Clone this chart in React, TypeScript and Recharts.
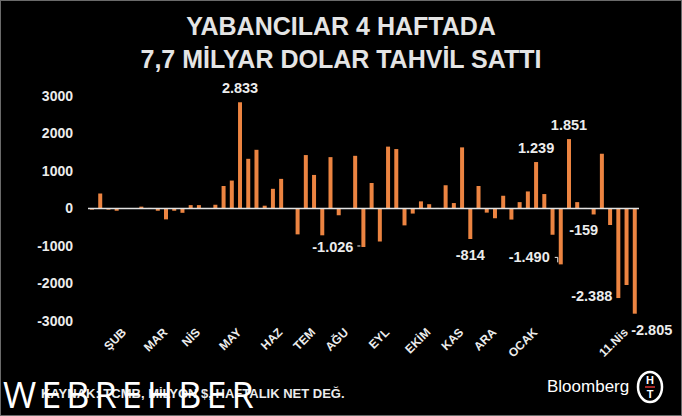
import { Bar, BarChart, LabelList, ReferenceLine, XAxis, YAxis } from 'recharts';

// weekly net foreign bond flows, million $
const weeklyFlows = [
  -30, 400, -30, -60, 5, 10, 50, 15, -60, -290, -60, -115, 90, 90, 10, 100, 600, 745, 2833, 1325,
  1565, 75, 525, 790, 10, -690, 1425, 895, -715, 1370, -180, 10, 1405, -1026, 680, -880, 1650,
  1585, -450, -135, 190, 115, 15, 620, 145, 1630, -814, 600, -110, -260, 340, -295, 170, 455,
  1239, 385, -700, -1490, 1851, 170, 15, -159, 1460, -440, -2388, -2040, -2805,
];

const tickWeeks = [4, 9, 13, 18, 23, 27, 31, 36, 41, 45, 49, 54, 65];
const tickLabels = ['ŞUB', 'MAR', 'NİS', 'MAY', 'HAZ', 'TEM', 'AĞU', 'EYL', 'EKİM', 'KAS', 'ARA', 'OCAK', '11.Nis'];
const yTicks = [-3000, -2000, -1000, 0, 1000, 2000, 3000];

const calloutWeeks = [18, 33, 46, 54, 57, 58, 61, 64, 66];
const calloutSides = ['above', 'leftDash', 'below', 'above', 'leftBracket', 'above', 'belowLeft', 'left', 'belowRight'];

const titleLines = ['YABANCILAR 4 HAFTADA', '7,7 MİLYAR DOLAR TAHVİL SATTI'];
const sourceNote = 'KAYNAK: TCMB, MİLYON $, HAFTALIK NET DEĞ.';

const data = weeklyFlows.map((flow, week) => ({ week, flow }));

const FONT = "'Liberation Sans', Arial, sans-serif";
const ORANGE = '#EC8441';
const TEXT = '#ececec';

// 2833 -> "2.833", -1026 -> "-1.026"
function fmt(v: number) {
  const s = String(Math.abs(v)).replace(/\B(?=(\d{3})+(?!\d))/g, '.');
  return (v < 0 ? '-' : '') + s;
}

// label value is the week number, only for the called-out weeks
const calloutKey = (d: { week: number }) => (calloutWeeks.includes(d.week) ? String(d.week) : null);

function MonthTick({ x, y, payload }: any) {
  const label = tickLabels[tickWeeks.indexOf(payload.value)];
  if (!label) return null;
  const ax = x + 2;
  const ay = y + 4;
  return (
    <text
      x={ax}
      y={ay}
      transform={`rotate(-45 ${ax} ${ay})`}
      textAnchor="end"
      fill={TEXT}
      fontSize={12}
      fontWeight={700}
      fontFamily={FONT}
    >
      {label}
    </text>
  );
}

function Callout(props: any) {
  const { x, y, width, height, value } = props;
  if (value == null || value === '') return null;
  const week = Number(value);
  const i = calloutWeeks.indexOf(week);
  if (i < 0) return null;
  const side = calloutSides[i];
  const cx = x + width / 2;
  const top = Math.min(y, y + height);
  const bottom = Math.max(y, y + height);
  const common = { fill: TEXT, fontSize: 14.5, fontWeight: 700, fontFamily: FONT };
  const text = fmt(weeklyFlows[week]);

  if (side === 'above') {
    return <text x={cx} y={top - 9} textAnchor="middle" {...common}>{text}</text>;
  }
  if (side === 'below' || side === 'belowLeft' || side === 'belowRight') {
    const shift = side === 'belowLeft' ? -10 : side === 'belowRight' ? 17 : 0;
    return <text x={cx + shift} y={bottom + 21} textAnchor="middle" {...common}>{text}</text>;
  }
  if (side === 'leftDash') {
    return (
      <g>
        <text x={cx - 10} y={bottom + 5} textAnchor="end" {...common}>{text}</text>
        <line x1={cx - 6} x2={cx - 3} y1={bottom - 1} y2={bottom - 1} stroke={TEXT} strokeWidth={1} />
      </g>
    );
  }
  if (side === 'leftBracket') {
    return (
      <g>
        <text x={cx - 11} y={bottom - 2} textAnchor="end" {...common}>{text}</text>
        <polyline
          points={`${cx - 6},${bottom - 7} ${cx - 3},${bottom - 7} ${cx - 3},${bottom - 2}`}
          fill="none"
          stroke={TEXT}
          strokeWidth={1}
        />
      </g>
    );
  }
  return <text x={cx - 6} y={bottom + 3} textAnchor="end" {...common}>{text}</text>;
}

export default function App() {
  return (
    <div
      style={{
        position: 'fixed',
        left: 0,
        top: 0,
        width: 682,
        height: 416,
        background: '#000',
        boxSizing: 'border-box',
        border: '1px solid #6a6a6a',
        overflow: 'hidden',
      }}
    >
      <div style={{ position: 'absolute', left: -1, top: -1 }}>
        <BarChart width={682} height={416} data={data} margin={{ top: 96, right: 43, bottom: 55, left: 8 }}>
          <XAxis
            dataKey="week"
            type="category"
            ticks={tickWeeks}
            interval={0}
            height={40}
            axisLine={false}
            tickLine={false}
            tick={<MonthTick />}
          />
          <YAxis
            type="number"
            domain={[-3000, 3000]}
            ticks={yTicks}
            width={80}
            axisLine={false}
            tickLine={false}
            tickSize={0}
            tickMargin={15}
            tick={{ fill: TEXT, fontSize: 14, fontWeight: 700, fontFamily: FONT }}
          />
          <Bar dataKey="flow" fill={ORANGE} barSize={4} isAnimationActive={false}>
            <LabelList dataKey={calloutKey} content={<Callout />} />
          </Bar>
          <ReferenceLine y={0} stroke="#e2e2e2" strokeWidth={1.5} />
        </BarChart>
      </div>

      <svg
        width={682}
        height={416}
        style={{ position: 'absolute', left: -1, top: -1, pointerEvents: 'none' }}
        fontFamily={FONT}
      >
        <text x={341} y={35} textAnchor="middle" fill="#e4e4e4" fontSize={25} fontWeight={700}>
          {titleLines[0]}
        </text>
        <text x={341} y={68} textAnchor="middle" fill="#e4e4e4" fontSize={25} fontWeight={700}>
          {titleLines[1]}
        </text>

        <text x={41} y={398} fill={TEXT} fontSize={13} fontWeight={700}>
          {sourceNote}
        </text>
        <text x={3} y={408} fill="#ffffff" fontSize={36} fontFamily="'Open Sans', sans-serif" fontWeight={400} letterSpacing={5}>
          WEBREHBER
        </text>

        <text x={547} y={392} fill="#ffffff" fontSize={17}>
          Bloomberg
        </text>
        <ellipse cx={650} cy={387} rx={12} ry={15} fill="none" stroke="#ffffff" strokeWidth={2.5} />
        <text x={650} y={384} textAnchor="middle" fill="#ffffff" fontSize={11} fontWeight={700}>
          H
        </text>
        <line x1={645} x2={655} y1={387} y2={387} stroke="#d33" strokeWidth={1.5} />
        <text x={650} y={398} textAnchor="middle" fill="#ffffff" fontSize={11} fontWeight={700}>
          T
        </text>
      </svg>
    </div>
  );
}
